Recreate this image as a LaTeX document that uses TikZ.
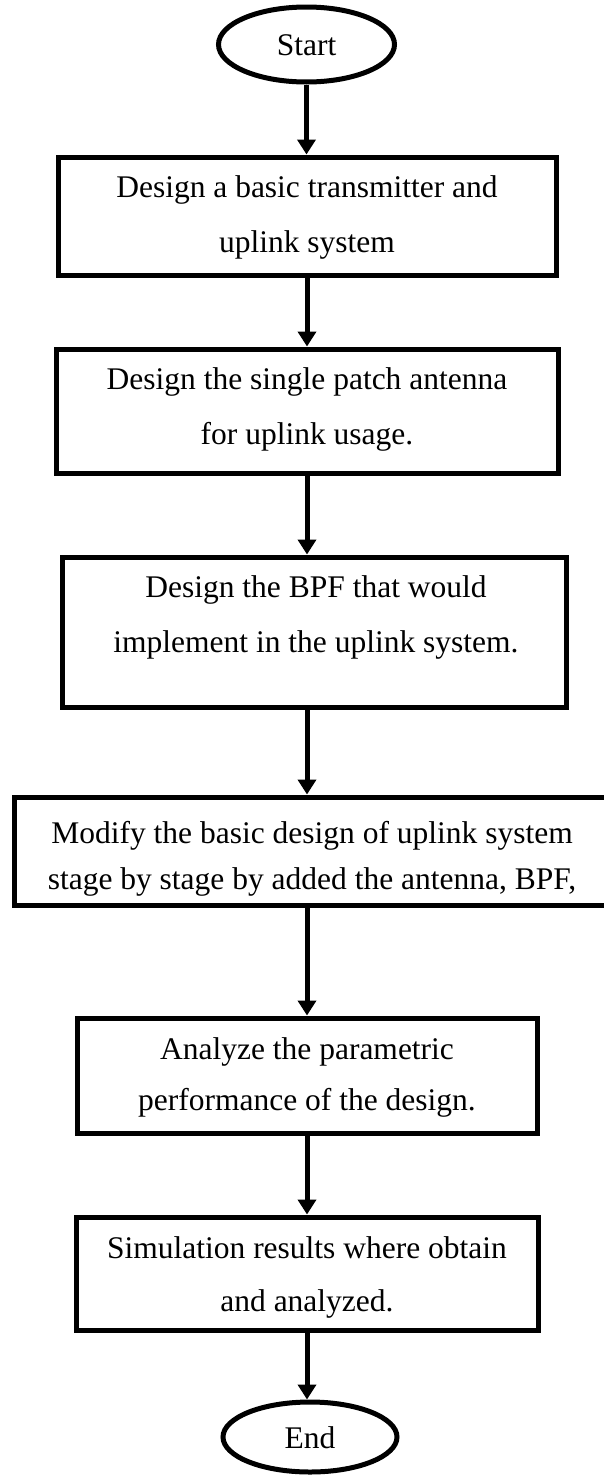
\documentclass[tikz,border=0pt]{standalone}
\usepackage{fontspec}
\setmainfont{Liberation Serif}
\usetikzlibrary{arrows.meta,shapes.geometric}
\newcommand{\twolines}[3]{\parbox[t]{600pt}{\centering\fontsize{31.5}{#3}\selectfont #1\\#2}}
\begin{document}
\begin{tikzpicture}[x=1pt,y=-1pt,
  boxnode/.style={draw=black,line width=5pt,rectangle,inner sep=0pt,fill=white},
  ovalnode/.style={draw=black,line width=5pt,ellipse,inner sep=0pt,fill=white},
  txtnode/.style={inner sep=0pt,anchor=base,font=\fontsize{31.5}{38}\selectfont},
  flow/.style={line width=5pt,-{Triangle[length=15pt,width=18pt]}}]
\useasboundingbox[fill=white] (0,0) rectangle (604,1475);
% start / end
\node[ovalnode,minimum width=176pt,minimum height=75pt] (start) at (306.5,44.5) {};
\node[txtnode] (starttxt) at (306.5,55) {Start};
\node[ovalnode,minimum width=174pt,minimum height=70pt] (end) at (310,1437) {};
\node[txtnode] (endtxt) at (310,1448) {End};
% boxes
\node[boxnode,minimum width=498pt,minimum height=118pt] (b1) at (307,216) {};
\node[txtnode] (t1) at (307,197) {\twolines{Design a basic transmitter and}{uplink system}{55}};
\node[boxnode,minimum width=502pt,minimum height=124pt] (b2) at (307,411) {};
\node[txtnode] (t2) at (307,389) {\twolines{Design the single patch antenna}{for uplink usage.}{55}};
\node[boxnode,minimum width=504pt,minimum height=150pt] (b3) at (314,632) {};
\node[txtnode] (t3) at (316,597) {\twolines{Design the BPF that would}{implement in the uplink system.}{55}};
\node[boxnode,minimum width=596pt,minimum height=108pt] (b4) at (312,851) {};
\node[txtnode] (t4) at (312,843) {\twolines{Modify the basic design of uplink system}{stage by stage by added the antenna, BPF,}{46}};
\node[boxnode,minimum width=460pt,minimum height=115pt] (b5) at (307,1075.5) {};
\node[txtnode] (t5) at (307,1059) {\twolines{Analyze the parametric}{performance of the design.}{51}};
\node[boxnode,minimum width=462pt,minimum height=113pt] (b6) at (307,1273.5) {};
\node[txtnode] (t6) at (307,1258) {\twolines{Simulation results where obtain}{and analyzed.}{53}};
% connectors
\draw[flow] (start.south) -- (start.south |- b1.north);
\draw[flow] (b1.south) -- (b1.south |- b2.north);
\draw[flow] (b2.south) -- (b2.south |- b3.north);
\draw[flow] (b2.south |- b3.south) -- (b2.south |- b4.north);
\draw[flow] (b2.south |- b4.south) -- (b2.south |- b5.north);
\draw[flow] (b5.south) -- (b5.south |- b6.north);
\draw[flow] (b6.south) -- (b6.south |- end.north);
\end{tikzpicture}
\end{document}
